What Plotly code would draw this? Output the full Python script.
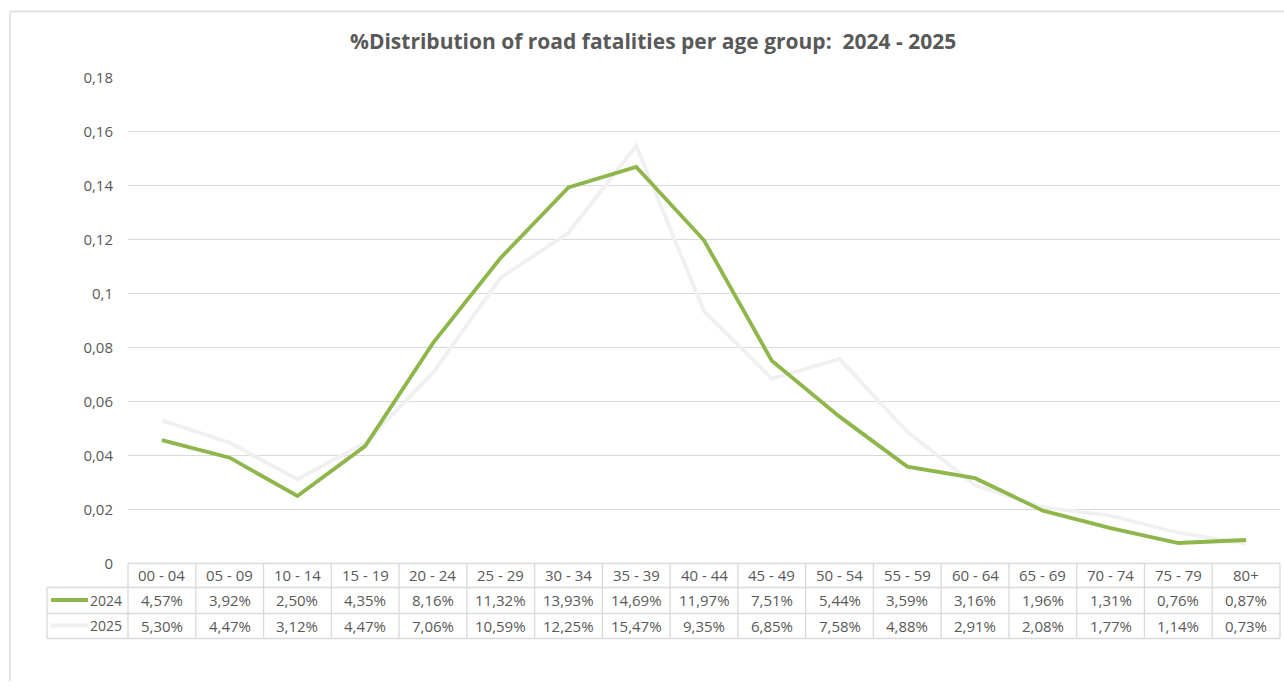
import plotly.graph_objects as go

age_groups = ["00 - 04", "05 - 09", "10 - 14", "15 - 19", "20 - 24", "25 - 29", "30 - 34",
              "35 - 39", "40 - 44", "45 - 49", "50 - 54", "55 - 59", "60 - 64", "65 - 69",
              "70 - 74", "75 - 79", "80+"]
pct_2024 = [4.57, 3.92, 2.50, 4.35, 8.16, 11.32, 13.93, 14.69, 11.97, 7.51, 5.44, 3.59,
            3.16, 1.96, 1.31, 0.76, 0.87]
pct_2025 = [5.30, 4.47, 3.12, 4.47, 7.06, 10.59, 12.25, 15.47, 9.35, 6.85, 7.58, 4.88,
            2.91, 2.08, 1.77, 1.14, 0.73]
series_names = ["2024", "2025"]
title_text = "%Distribution of road fatalities per age group:\u00a0 2024 - 2025"

W, H = 1284, 690
FONT = "Open Sans, Segoe UI, sans-serif"
TXT = "#595959"
GRID = "#D9D9D9"
C24 = "#8EB64A"
C25 = "#F0F0F0"

# the photographed page maps figure pixel y to picture y as about 10.5 + 0.971*y
V_OFF, V_SC = 10.5, 0.971

def px(x):
    return x / W

def py(y):
    fy = (y - V_OFF) / V_SC
    return (H - fy) / H

plot_left, plot_right = 128, 1280
y_top, y_zero = 77, 563

fig = go.Figure()
fig.add_trace(go.Scatter(x=list(range(len(age_groups))), y=[v / 100 for v in pct_2025],
                         mode="lines", line=dict(color=C25, width=3.8), name=series_names[1],
                         showlegend=False, hoverinfo="skip"))
fig.add_trace(go.Scatter(x=list(range(len(age_groups))), y=[v / 100 for v in pct_2024],
                         mode="lines", line=dict(color=C24, width=3.8), name=series_names[0],
                         showlegend=False, hoverinfo="skip"))

shapes = []
annotations = []

# outer chart border (left and top edges visible in the reference)
shapes.append(dict(type="line", xref="paper", yref="paper", x0=px(10), x1=px(10),
                   y0=0, y1=py(11), line=dict(color=GRID, width=1.5), layer="below"))
shapes.append(dict(type="line", xref="paper", yref="paper", x0=px(10), x1=1,
                   y0=py(11), y1=py(11), line=dict(color=GRID, width=1.5), layer="below"))

# table geometry
r_head_top, r_head_bot, r1_bot, r2_bot = 563, 587, 613, 638
tbl_left = 47
n = len(age_groups)
col_w = (plot_right - plot_left) / n

def hline(x0, x1, y):
    shapes.append(dict(type="line", xref="paper", yref="paper", x0=px(x0), x1=px(x1),
                       y0=py(y), y1=py(y), line=dict(color=GRID, width=1.3)))

def vline(x, y0, y1):
    shapes.append(dict(type="line", xref="paper", yref="paper", x0=px(x), x1=px(x),
                       y0=py(y0), y1=py(y1), line=dict(color=GRID, width=1.3)))

hline(plot_left, plot_right, r_head_top)
hline(tbl_left, plot_right, r_head_bot)
hline(tbl_left, plot_right, r1_bot)
hline(tbl_left, plot_right, r2_bot)
vline(tbl_left, r_head_bot, r2_bot)
for i in range(n + 1):
    vline(plot_left + i * col_w, r_head_top, r2_bot)

def fmt(v):
    return f"{v:.2f}%".replace(".", ",")

rows = [((r_head_top + r_head_bot) / 2 - 1, age_groups),
        ((r_head_bot + r1_bot) / 2 - 0.5, [fmt(v) for v in pct_2024]),
        ((r1_bot + r2_bot) / 2 - 0.5, [fmt(v) for v in pct_2025])]
for yc, labels in rows:
    for i, lab in enumerate(labels):
        annotations.append(dict(x=i, xref="x", y=py(yc), yref="paper", text=lab,
                                showarrow=False, xanchor="center", yanchor="middle",
                                font=dict(family=FONT, size=15, color=TXT)))

# legend keys in table
for (yc, name, col) in [((r_head_bot + r1_bot) / 2 - 0.5, series_names[0], C24),
                        ((r1_bot + r2_bot) / 2 - 0.5, series_names[1], C25)]:
    shapes.append(dict(type="line", xref="paper", yref="paper", x0=px(51), x1=px(88),
                       y0=py(yc), y1=py(yc), line=dict(color=col, width=3.8)))
    annotations.append(dict(x=px(124), xref="paper", y=py(yc), yref="paper", text=name,
                            showarrow=False, xanchor="right", yanchor="middle",
                            font=dict(family=FONT, size=14, color=TXT)))

annotations.append(dict(x=px(653), xref="paper", y=py(40.5), yref="paper", text=title_text,
                        showarrow=False, xanchor="center", yanchor="middle",
                        font=dict(family=FONT, size=21, color=TXT, weight=700)))

fig.update_layout(
    width=W, height=H, margin=dict(l=0, r=0, t=0, b=0),
    paper_bgcolor="white", plot_bgcolor="white",
    separators=", ",
    shapes=shapes, annotations=annotations,
    xaxis=dict(domain=[px(plot_left), px(plot_right)], range=[-0.5, n - 0.5],
               showgrid=False, showticklabels=False, zeroline=False, showline=False,
               fixedrange=True),
    yaxis=dict(domain=[py(y_zero), py(y_top)], range=[0, 0.18], dtick=0.02, tick0=0,
               showgrid=True, gridcolor=GRID, gridwidth=1.3, zeroline=False, showline=False,
               ticks="", ticklabelstandoff=14,
               tickfont=dict(family=FONT, size=15, color=TXT), fixedrange=True),
)

post_js = "document.body.style.margin='0';document.body.style.overflow='hidden';"

fig.write_html("out.html", config={"displayModeBar": False}, post_script=post_js)
